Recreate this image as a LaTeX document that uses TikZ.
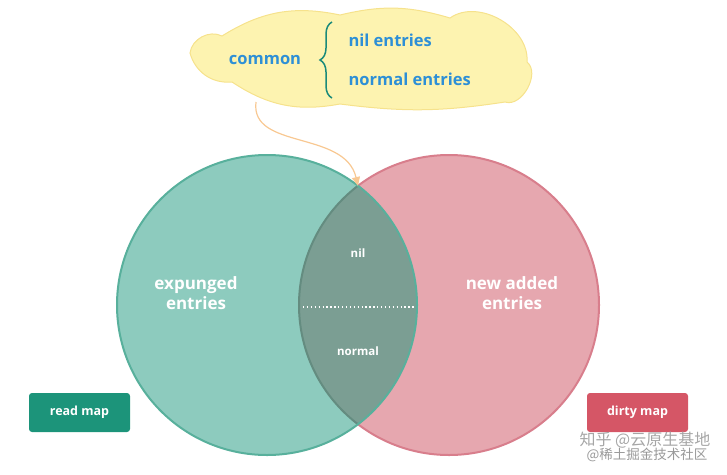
\documentclass[tikz,border=0pt]{standalone}
\usepackage{fontspec}
\setmainfont{Open Sans}
\newfontfamily\cjkfont{Noto Sans CJK SC}
\usetikzlibrary{arrows.meta, decorations.pathreplacing}

\definecolor{readfill}{RGB}{141,203,190}
\definecolor{readline}{RGB}{88,176,156}
\definecolor{dirtyfill}{RGB}{230,167,175}
\definecolor{dirtyline}{RGB}{216,126,140}
\definecolor{commonfill}{RGB}{123,158,147}
\definecolor{commonline}{RGB}{100,140,128}
\definecolor{readbtn}{RGB}{28,148,122}
\definecolor{dirtybtn}{RGB}{213,86,102}
\definecolor{cloudfill}{RGB}{253,243,176}
\definecolor{cloudline}{RGB}{246,226,140}
\definecolor{bluetext}{RGB}{45,143,214}
\definecolor{bracecol}{RGB}{26,138,122}
\definecolor{arrowcol}{RGB}{248,200,146}

\begin{document}
\begin{tikzpicture}[x=1pt, y=-1pt,
  setlabel/.style={font=\bfseries\fontsize{17}{20}\selectfont, text=white, align=center},
  smalllabel/.style={font=\bfseries\fontsize{11.5}{14}\selectfont, text=white},
  cloudtext/.style={font=\bfseries\fontsize{16.5}{20}\selectfont, text=bluetext},
  button/.style={rounded corners=3pt, minimum width=101pt, minimum height=39pt,
    text=white, font=\bfseries\fontsize{12.5}{15}\selectfont},
  link/.style={draw=arrowcol, line width=1.2pt, -{Triangle[length=9pt, width=8pt]}}]
  \useasboundingbox (0,0) rectangle (727,474);

  % Two sets
  \fill[dirtyfill] (449,305) circle (150);
  \fill[readfill] (267,305) circle (150);
  \begin{scope}
    \clip (267,305) circle (150);
    \fill[commonfill] (449,305) circle (150);
    \draw[commonline, line width=2pt] (449,305) circle (150);
  \end{scope}
  \begin{scope}
    \clip (0,0) rectangle (727,474) (267,305) circle (150);
    \draw[dirtyline, line width=2pt] (449,305) circle (150);
  \end{scope}
  \draw[readline, line width=2pt] (267,305) circle (150);
  \coordinate (top) at (358,186);

  % Split of the common part
  \coordinate (splitleft) at (303,307);
  \coordinate (splitright) at (415,307);
  \draw[white, line width=1.3pt, dash pattern=on 1.3pt off 2.6pt] (splitleft) -- (splitright);

  % Set labels
  \node[setlabel] (expunged) at (196,293) {expunged\\[0pt]entries};
  \node[setlabel] (newadded) at (512,293) {new added\\[0pt]entries};
  \node[smalllabel] (nil) at (358,253) {nil};
  \node[smalllabel] (normal) at (358,351) {normal};

  % Map buttons
  \node[button, fill=readbtn] (readmap) at (79.5,412.5) {read map};
  \node[button, fill=dirtybtn] (dirtymap) at (637.5,412.5) {dirty map};

  % Cloud note
  \draw[fill=cloudfill, draw=cloudline, line width=1pt]
    (190,53) to[bend left=55] (222,36) to[bend left=22] (340,15)
    to[bend left=15] (450,18) to[bend left=65] (527,62)
    to[bend left=80] (505,102) to[bend left=8] (340,104)
    to[bend left=22] (232,82) to[bend left=40] cycle;
  \node[cloudtext] (common) at (265,60) {common};
  \node[cloudtext, anchor=west] (nilentries) at (345,40) {nil entries};
  \node[cloudtext, anchor=west] (normalentries) at (345,79) {normal entries};
  \draw[bracecol, line width=1.5pt, decorate,
    decoration={brace, amplitude=12pt, aspect=0.5}] (332,98) -- (332,22);

  % Arrow into the common part
  \coordinate (arrowstart) at (256,102);
  \draw[link] (arrowstart) .. controls (250,150) and (345,130) .. (top);

  % Watermark
  \node[text=gray!70, font=\cjkfont\fontsize{16}{18}\selectfont] (zhihu) at (645,440) {知乎 @云原生基地};
  \node[text=gray!80, font=\cjkfont\fontsize{13.5}{16}\selectfont] (juejin) at (647,455) {@稀土掘金技术社区};
\end{tikzpicture}
\end{document}
